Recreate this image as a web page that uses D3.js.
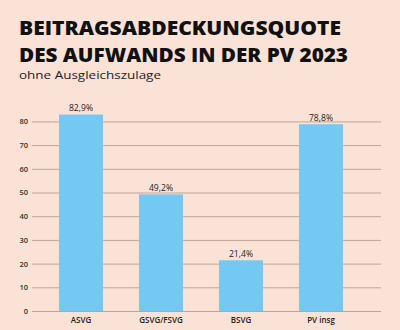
<!DOCTYPE html>
<html>
<head>
<meta charset="utf-8">
<script src="https://cdn.jsdelivr.net/npm/d3@7"></script>
<style>
  html, body { margin: 0; padding: 0; background: #fbe2d7; }
  svg { display: block; }
</style>
</head>
<body>
<svg id="chart" width="400" height="330"></svg>
<script>
const categories = ["ASVG", "GSVG/FSVG", "BSVG", "PV insg"];
const values = [82.9, 49.2, 21.4, 78.8];
const valueLabels = ["82,9%", "49,2%", "21,4%", "78,8%"];
const yTicks = [0, 10, 20, 30, 40, 50, 60, 70, 80];
const titleLines = ["BEITRAGSABDECKUNGSQUOTE", "DES AUFWANDS IN DER PV 2023"];
const titleWidths = [322, 329];
const subtitle = "ohne Ausgleichszulage";

const FONT = "'Open Sans', sans-serif";
const svg = d3.select("#chart");
const W = 400, H = 330;
svg.append("rect").attr("width", W).attr("height", H).attr("fill", "#fbe2d7");

// Title block
svg.append("g").selectAll("text").data(titleLines).join("text")
  .attr("x", 19).attr("y", (d, i) => 34.5 + i * 27)
  .attr("font-family", FONT).attr("font-weight", 800).attr("font-size", 19)
  .attr("textLength", (d, i) => titleWidths[i]).attr("lengthAdjust", "spacingAndGlyphs")
  .attr("fill", "#111").text(d => d);
svg.append("text").attr("x", 19).attr("y", 79)
  .attr("font-family", FONT).attr("font-size", 11.2).attr("fill", "#222")
  .attr("textLength", 142).attr("lengthAdjust", "spacingAndGlyphs")
  .text(subtitle);

// Scales
const x = d3.scaleBand().domain(categories).range([41, 361])
  .paddingInner(0.45).paddingOuter(0.225);
const y = d3.scaleLinear().domain([0, 80]).range([311, 121.4]);

// Gridlines with tick labels
const yAxis = d3.axisLeft(y).tickValues(yTicks).tickSize(-(381 - 32)).tickPadding(4);
const gy = svg.append("g").attr("transform", "translate(32,0)").call(yAxis);
gy.select(".domain").remove();
gy.selectAll(".tick line").attr("stroke", "#b9a69b").attr("stroke-width", 1);
gy.selectAll(".tick text").attr("font-family", FONT).attr("font-weight", 600)
  .attr("font-size", 7.5).attr("fill", "#333");

// Bars
svg.append("g").selectAll("rect").data(categories).join("rect")
  .attr("x", d => x(d)).attr("width", x.bandwidth())
  .attr("y", (d, i) => y(values[i])).attr("height", (d, i) => y(0) - y(values[i]))
  .attr("fill", "#74c8f4");

// Value labels
svg.append("g").selectAll("text").data(categories).join("text")
  .attr("x", d => x(d) + x.bandwidth() / 2).attr("y", (d, i) => y(values[i]) - 3.5)
  .attr("text-anchor", "middle").attr("font-family", FONT).attr("font-weight", 500)
  .attr("font-size", 8.6).attr("fill", "#222").text((d, i) => valueLabels[i]);

// Category axis
const xAxis = d3.axisBottom(x).tickSize(0).tickPadding(6);
const gx = svg.append("g").attr("transform", "translate(0,311)").call(xAxis);
gx.select(".domain").remove();
gx.selectAll(".tick text").attr("font-family", FONT).attr("font-weight", 600)
  .attr("font-size", 8).attr("fill", "#222");
</script>
</body>
</html>
